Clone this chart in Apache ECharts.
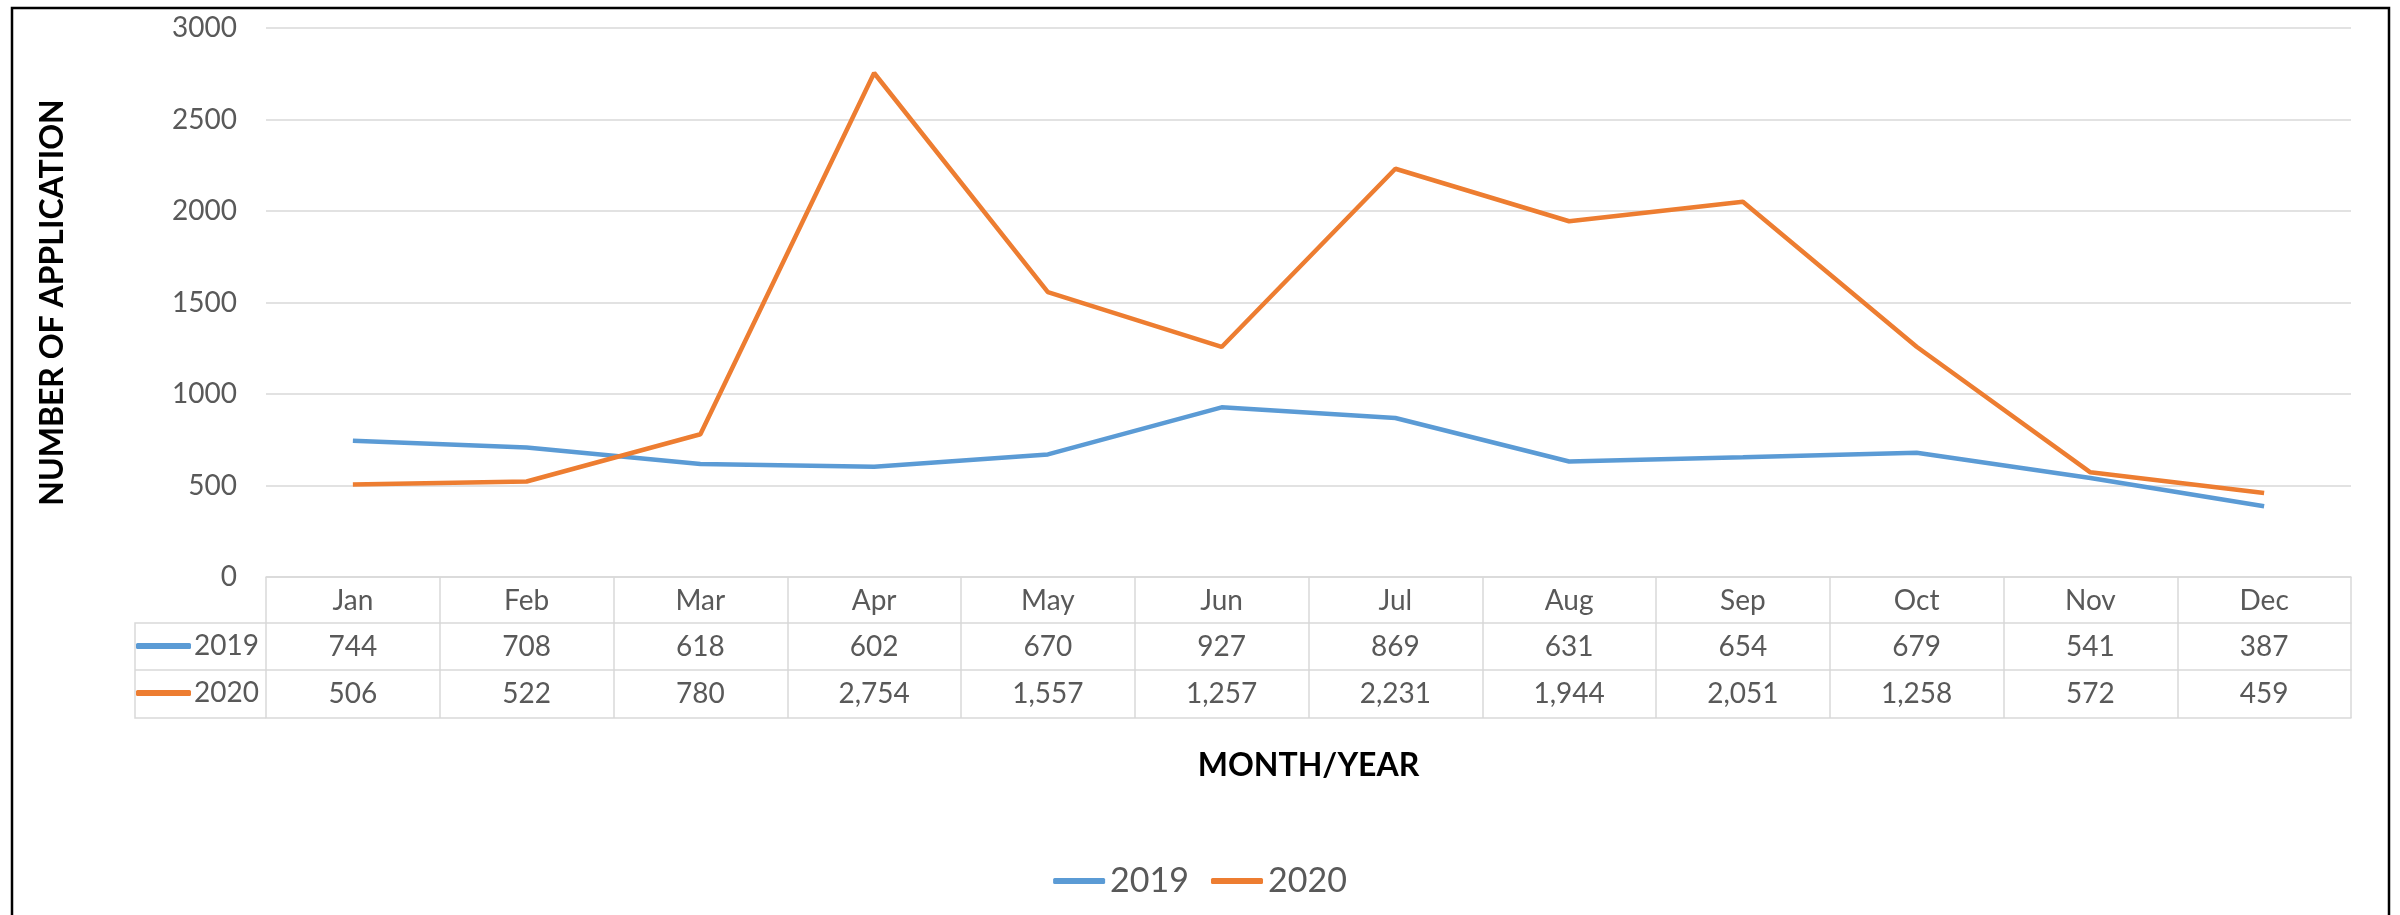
<!DOCTYPE html>
<html>
<head>
<meta charset="utf-8">
<script src="https://cdn.jsdelivr.net/npm/echarts@6/dist/echarts.min.js"></script>
<style>
    html, body { margin: 0; padding: 0; background: #fff; }
    #main { width: 2400px; height: 915px; }
</style>
</head>
<body>
<div id="main"></div>
<script>
var months = ['Jan', 'Feb', 'Mar', 'Apr', 'May', 'Jun', 'Jul', 'Aug', 'Sep', 'Oct', 'Nov', 'Dec'];
var years = ['2019', '2020'];
var data2019 = [744, 708, 618, 602, 670, 927, 869, 631, 654, 679, 541, 387];
var data2020 = [506, 522, 780, 2754, 1557, 1257, 2231, 1944, 2051, 1258, 572, 459];
var yTicks = [0, 500, 1000, 1500, 2000, 2500, 3000];

var blue = '#5B9BD5';
var orange = '#ED7D31';
var gridColor = '#D9D9D9';
var textColor = '#595959';
var font = 'Lato';

function fmt(v) {
    return v.toLocaleString('en-US');
}

var chart = echarts.init(document.getElementById('main'));

// the data table is built out of stacked x axes under the plot
function tableAxis(offset, formatter, extra) {
    var ax = {
        type: 'category',
        data: months,
        position: 'bottom',
        offset: offset,
        boundaryGap: true,
        axisLine: { show: true, lineStyle: { color: gridColor, width: 1.5 } },
        axisTick: { show: false },
        axisLabel: {
            show: formatter != null,
            interval: 0,
            color: textColor,
            fontFamily: font,
            fontSize: 28,
            verticalAlign: 'middle',
            margin: 24,
            formatter: formatter
        }
    };
    for (var k in extra) ax[k] = extra[k];
    return ax;
}

var option = {
    animation: false,
    grid: { left: 266, right: 49, top: 28, bottom: 338 },
    legend: [{
        data: years,
        left: 'center',
        top: 859,
        icon: 'roundRect',
        itemWidth: 52,
        itemHeight: 6,
        itemGap: 22,
        selectedMode: false,
        textStyle: { color: textColor, fontFamily: font, fontSize: 34 }
    }, {
        data: years,
        orient: 'vertical',
        left: 136,
        top: 631,
        padding: 0,
        icon: 'roundRect',
        itemWidth: 55,
        itemHeight: 6,
        itemGap: 17,
        selectedMode: false,
        textStyle: { color: textColor, fontFamily: font, fontSize: 28, lineHeight: 30, padding: [0, 0, 0, -2] }
    }],
    xAxis: [
        tableAxis(0, function (v) { return v; }, {
            axisTick: { show: true, interval: 0, length: 141, lineStyle: { color: gridColor, width: 1.5 } }
        }),
        tableAxis(46, function (v, i) { return fmt(data2019[i]); }),
        tableAxis(93, function (v, i) { return fmt(data2020[i]); }),
        tableAxis(141, null, {
            name: 'MONTH/YEAR',
            nameLocation: 'middle',
            nameGap: 32,
            nameTextStyle: { color: '#000', fontFamily: font, fontWeight: 'bold', fontSize: 32 }
        })
    ],
    yAxis: {
        type: 'value',
        min: yTicks[0],
        max: yTicks[yTicks.length - 1],
        interval: 500,
        name: 'NUMBER OF APPLICATION',
        nameLocation: 'middle',
        nameGap: 197,
        nameTextStyle: { color: '#000', fontFamily: font, fontWeight: 'bold', fontSize: 32 },
        axisLine: { show: false },
        axisTick: { show: false },
        axisLabel: {
            color: textColor, fontFamily: font, fontSize: 28, margin: 29,
            formatter: function (v) { return String(v); }
        },
        splitLine: { lineStyle: { color: gridColor, width: 1.5 } }
    },
    series: [{
        name: '2019',
        type: 'line',
        data: data2019,
        symbol: 'none',
        color: blue,
        lineStyle: { color: blue, width: 4.5 },
        z: 3
    }, {
        name: '2020',
        type: 'line',
        data: data2020,
        symbol: 'none',
        color: orange,
        lineStyle: { color: orange, width: 4.5 },
        z: 4
    }],
    graphic: [
        // outer frame
        { type: 'rect', shape: { x: 12, y: 8, width: 2377, height: 1000 }, style: { fill: null, stroke: '#000', lineWidth: 2.5 } },
        // row header column of the table
        { type: 'polyline', shape: { points: [[266, 623], [135, 623], [135, 718], [266, 718]] }, style: { fill: null, stroke: gridColor, lineWidth: 1.5 } },
        { type: 'line', shape: { x1: 135, y1: 670, x2: 266, y2: 670 }, style: { stroke: gridColor, lineWidth: 1.5 } }
    ]
};

chart.setOption(option);
</script>
</body>
</html>
